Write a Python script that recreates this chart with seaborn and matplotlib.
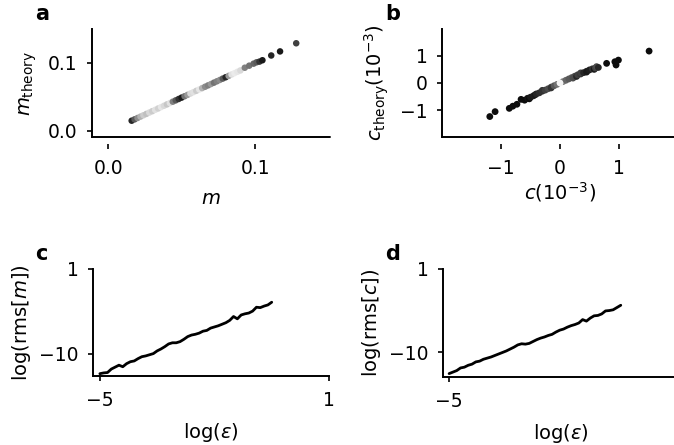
import numpy as np
import pandas as pd
import matplotlib
matplotlib.use('Agg')
import matplotlib.pyplot as plt
import seaborn as sns

# panel a: m vs m_theory, grey level per point
m_vals = [0.016, 0.018, 0.020, 0.022, 0.024, 0.026, 0.028, 0.030, 0.032, 0.034,
          0.036, 0.038, 0.040, 0.042, 0.044, 0.046, 0.048, 0.050, 0.052, 0.054,
          0.056, 0.058, 0.060, 0.062, 0.064, 0.066, 0.068, 0.070, 0.072, 0.074,
          0.076, 0.078, 0.080, 0.082, 0.084, 0.086, 0.088, 0.090, 0.093, 0.096,
          0.099, 0.101, 0.103, 0.105, 0.111, 0.117, 0.128]
m_theory = [0.015, 0.017, 0.019, 0.021, 0.023, 0.025, 0.027, 0.029, 0.031, 0.033,
            0.035, 0.037, 0.039, 0.041, 0.043, 0.045, 0.047, 0.049, 0.051, 0.053,
            0.055, 0.057, 0.059, 0.061, 0.063, 0.065, 0.067, 0.069, 0.071, 0.073,
            0.075, 0.077, 0.079, 0.081, 0.083, 0.085, 0.087, 0.089, 0.093, 0.096,
            0.099, 0.101, 0.102, 0.104, 0.111, 0.117, 0.129]
m_shade = [0.15, 0.35, 0.55, 0.70, 0.80, 0.75, 0.85, 0.80, 0.88, 0.82,
           0.90, 0.85, 0.78, 0.88, 0.50, 0.35, 0.20, 0.10, 0.45, 0.60,
           0.85, 0.88, 0.80, 0.90, 0.70, 0.55, 0.50, 0.60, 0.45, 0.50,
           0.55, 0.35, 0.15, 0.60, 0.88, 0.92, 0.90, 0.85, 0.50, 0.45,
           0.40, 0.35, 0.20, 0.10, 0.15, 0.10, 0.25]

# panel b: c vs c_theory (units of 1e-3)
c_vals = [-1.19, -1.10, -0.86, -0.80, -0.73, -0.66, -0.60, -0.55, -0.52, -0.50,
          -0.45, -0.42, -0.40, -0.35, -0.30, -0.30, -0.25, -0.20, -0.15, -0.15,
          -0.10, -0.05, 0.05, 0.10, 0.15, 0.20, 0.22, 0.25, 0.28, 0.30,
          0.35, 0.35, 0.40, 0.45, 0.45, 0.50, 0.55, 0.58, 0.60, 0.62,
          0.65, 0.79, 0.93, 0.95, 0.99, 1.51, 0.00]
c_theory = [-1.23, -1.05, -0.93, -0.85, -0.78, -0.60, -0.63, -0.56, -0.58, -0.52,
            -0.47, -0.43, -0.40, -0.36, -0.30, -0.27, -0.26, -0.21, -0.15, -0.18,
            -0.10, -0.05, 0.05, 0.10, 0.15, 0.20, 0.18, 0.25, 0.24, 0.30,
            0.33, 0.37, 0.38, 0.43, 0.40, 0.48, 0.52, 0.50, 0.55, 0.60,
            0.57, 0.72, 0.78, 0.66, 0.84, 1.17, 0.00]
c_shade = [0.05, 0.05, 0.05, 0.05, 0.05, 0.05, 0.05, 0.08, 0.05, 0.10,
           0.12, 0.10, 0.15, 0.18, 0.20, 0.20, 0.25, 0.30, 0.30, 0.20,
           0.35, 0.45, 0.50, 0.40, 0.35, 0.35, 0.30, 0.30, 0.15, 0.25,
           0.20, 0.25, 0.15, 0.15, 0.10, 0.12, 0.20, 0.10, 0.25, 0.30,
           0.15, 0.05, 0.05, 0.05, 0.05, 0.05, 0.95]

# panels c, d: log rms error vs log epsilon
log_eps = [-5.0, -4.9, -4.8, -4.7, -4.6, -4.5, -4.4, -4.3, -4.2, -4.1,
           -4.0, -3.9, -3.8, -3.7, -3.6, -3.5, -3.4, -3.3, -3.2, -3.1,
           -3.0, -2.9, -2.8, -2.7, -2.6, -2.5, -2.4, -2.3, -2.2, -2.1,
           -2.0, -1.9, -1.8, -1.7, -1.6, -1.5, -1.4, -1.3, -1.2, -1.1,
           -1.0, -0.9, -0.8, -0.7, -0.6, -0.5]
log_rms_m = [-12.55, -12.45, -12.40, -11.95, -11.70, -11.45, -11.65, -11.25, -11.00, -10.90,
             -10.60, -10.35, -10.25, -10.10, -9.95, -9.60, -9.35, -9.05, -8.70, -8.55,
             -8.55, -8.40, -8.10, -7.75, -7.55, -7.45, -7.30, -7.05, -6.95, -6.65,
             -6.50, -6.35, -6.15, -5.95, -5.65, -5.15, -5.45, -4.95, -4.80, -4.70,
             -4.45, -3.95, -4.00, -3.80, -3.65, -3.30]
log_rms_c = [-12.85, -12.65, -12.45, -12.10, -12.00, -11.75, -11.60, -11.30, -11.20, -10.95,
             -10.80, -10.65, -10.45, -10.25, -10.05, -9.85, -9.60, -9.35, -9.05, -8.90,
             -8.95, -8.85, -8.60, -8.35, -8.15, -8.00, -7.80, -7.65, -7.35, -7.10,
             -6.95, -6.70, -6.50, -6.35, -6.15, -5.70, -5.90, -5.50, -5.20, -5.15,
             -4.95, -4.55, -4.50, -4.40, -4.10, -3.80]

sns.set_theme(style='ticks')
plt.rcParams['font.family'] = ['DejaVu Sans']
plt.rcParams['text.color'] = 'black'
plt.rcParams['axes.labelcolor'] = 'black'
plt.rcParams['axes.linewidth'] = 1.4
plt.rcParams['xtick.major.width'] = 1.2
plt.rcParams['ytick.major.width'] = 1.2
plt.rcParams['xtick.major.size'] = 3.5
plt.rcParams['ytick.major.size'] = 3.5
plt.rcParams['xtick.major.pad'] = 7
plt.rcParams['ytick.major.pad'] = 7
plt.rcParams['xtick.labelsize'] = 13.5
plt.rcParams['ytick.labelsize'] = 13.5
plt.rcParams['axes.labelsize'] = 14
plt.rcParams['axes.edgecolor'] = 'black'
plt.rcParams['xtick.color'] = 'black'
plt.rcParams['ytick.color'] = 'black'

W, H = 674, 445
fig = plt.figure(figsize=(6.74, 4.45), dpi=100)

def box(l, t, r, b):
    return [l / W, 1 - b / H, (r - l) / W, (b - t) / H]

ax_a = fig.add_axes(box(92, 29, 330, 137))
ax_b = fig.add_axes(box(442, 29, 678, 137))
ax_c = fig.add_axes(box(93, 269, 329, 376))
ax_d = fig.add_axes(box(443, 269, 678, 377))

df_a = pd.DataFrame({'m': m_vals, 'mt': m_theory, 'g': m_shade})
sns.scatterplot(data=df_a, x='m', y='mt', hue='g', palette='gray', hue_norm=(0, 1),
                s=22, linewidth=0, legend=False, ax=ax_a)
ax_a.set_xlim(-0.011, 0.151)
ax_a.set_ylim(-0.009, 0.15)
ax_a.set_xticks([0.0, 0.1])
ax_a.set_xticklabels(['0.0', '0.1'])
ax_a.set_yticks([0.0, 0.1])
ax_a.set_yticklabels(['0.0', '0.1'])
ax_a.set_xlabel('$m$', labelpad=8)
ax_a.set_ylabel(r'$m_{\rm theory}$', labelpad=6)

df_b = pd.DataFrame({'c': c_vals, 'ct': c_theory, 'g': c_shade})
sns.scatterplot(data=df_b, x='c', y='ct', hue='g', palette='gray', hue_norm=(0, 1),
                s=24, linewidth=0, legend=False, ax=ax_b)
ax_b.set_xlim(-2.0, 2.0)
ax_b.set_ylim(-1.98, 1.98)
ax_b.set_xticks([-1, 0, 1])
ax_b.set_yticks([-1, 0, 1])
ax_b.set_xlabel(r'$c$(10$^{-3}$)', labelpad=2)
ax_b.set_ylabel(r'$c_{\rm theory}$(10$^{-3}$)', labelpad=6)

for ax in (ax_a, ax_b):
    sns.despine(ax=ax)
    ax.spines['bottom'].set_position(('outward', 5))
    ax.spines['bottom'].set_visible(False)
    ax.axhline(ax.get_ylim()[0], color='black', lw=1.4, clip_on=False)

sns.lineplot(x=log_eps, y=log_rms_m, color='black', lw=2, ax=ax_c)
ax_c.set_xlim(-5.18, 1.0)
ax_c.set_ylim(-12.85, 1)
ax_c.set_ylabel(r'log(rms[$m$])', labelpad=4)

sns.lineplot(x=log_eps, y=log_rms_c, color='black', lw=2, ax=ax_d)
ax_d.set_xlim(-5.16, 1.0)
ax_d.set_ylim(-13.3, 1)
ax_d.set_ylabel(r'log(rms[$c$])', labelpad=4)

for ax in (ax_c, ax_d):
    sns.despine(ax=ax)
    ax.set_xticks([-5, 1])
    ax.set_yticks([-10, 1])
    ax.set_xlabel(r'log($\epsilon$)', labelpad=8)

for lab, x, y in [('a', 35, 20), ('b', 385, 20), ('c', 35, 260), ('d', 385, 260)]:
    fig.text(x / W, 1 - y / H, lab, fontsize=15, fontweight='bold', color='black',
             ha='left', va='baseline')

fig.savefig('out.png', dpi=100)
